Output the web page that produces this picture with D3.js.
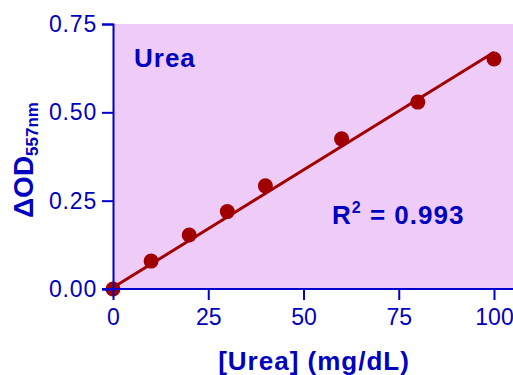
<!DOCTYPE html>
<html>
<head>
<meta charset="utf-8">
<script src="https://cdn.jsdelivr.net/npm/d3@7"></script>
<style>
  body { margin: 0; background: #fff; }
  text { font-family: "Liberation Sans", Arial, sans-serif; fill: #0000c0; }
</style>
</head>
<body>
<div id="chart"></div>
<script>
// urea standard curve
var ureaConc = [0, 10, 20, 30, 40, 60, 80, 100];
var deltaOD = [0, 0.079, 0.153, 0.219, 0.292, 0.425, 0.529, 0.651];
var fitX = [0, 100];
var fitY = [0.004, 0.670];
var xTicks = [0, 25, 50, 75, 100];
var yTicks = [0, 0.25, 0.5, 0.75];

var w = 513, h = 375;
var m = { left: 113, top: 24, bottom: 86 };
var blue = "#0000cc";

var svg = d3.select("#chart").append("svg")
    .attr("width", w).attr("height", h);

var x = d3.scaleLinear().domain([0, 100]).range([m.left, 494]);
var y = d3.scaleLinear().domain([0, 0.75]).range([h - m.bottom, m.top]);

svg.append("rect")
    .attr("x", m.left).attr("y", m.top)
    .attr("width", w - m.left).attr("height", y(0) - m.top)
    .attr("fill", "#eeccf7");

// fit line + points
svg.append("path")
    .datum(fitX.map(function (d, i) { return [d, fitY[i]]; }))
    .attr("fill", "none").attr("stroke", "#a00000").attr("stroke-width", 3)
    .attr("d", d3.line().x(function (d) { return x(d[0]); }).y(function (d) { return y(d[1]); }));

svg.selectAll("circle.pt")
    .data(ureaConc)
    .enter().append("circle")
    .attr("class", "pt")
    .attr("cx", function (d) { return x(d); })
    .attr("cy", function (d, i) { return y(deltaOD[i]); })
    .attr("r", 7.5)
    .attr("fill", "#a00000");

var xAxis = svg.append("g")
    .attr("transform", "translate(0," + y(0) + ")")
    .call(d3.axisBottom(x).tickValues(xTicks).tickSize(11).tickPadding(9).tickFormat(d3.format("d")));

var yAxis = svg.append("g")
    .attr("transform", "translate(" + m.left + ",0)")
    .call(d3.axisLeft(y).tickValues(yTicks).tickSize(11).tickPadding(5).tickFormat(d3.format(".2f")));

[xAxis, yAxis].forEach(function (g) {
    g.select(".domain").attr("stroke", blue).attr("stroke-width", 2);
    g.selectAll(".tick line").attr("stroke", blue).attr("stroke-width", 2);
    g.selectAll(".tick text").style("font-size", "23px").attr("fill", "#0000c0");
});
yAxis.selectAll(".tick text").style("letter-spacing", "0.8px");
xAxis.select(".domain").attr("d", "M" + (m.left - 11) + ",0H" + w);

// labels
svg.append("text")
    .attr("x", 314).attr("y", 370)
    .attr("text-anchor", "middle")
    .style("font-size", "26px").style("font-weight", "bold").style("letter-spacing", "1px")
    .text("[Urea] (mg/dL)");

svg.append("text")
    .attr("x", 134).attr("y", 67)
    .style("font-size", "26px").style("font-weight", "bold").style("letter-spacing", "1px")
    .text("Urea");

var r2 = svg.append("text")
    .attr("x", 332).attr("y", 224)
    .style("font-size", "26px").style("font-weight", "bold").style("letter-spacing", "1px");
r2.append("tspan").text("R");
r2.append("tspan").attr("dy", -11).style("font-size", "16px").text("2");
r2.append("tspan").attr("dy", 11).text(" = 0.993");

var yl = svg.append("text")
    .attr("transform", "translate(33,218) rotate(-90)")
    .style("font-size", "28px").style("font-weight", "bold");
yl.append("tspan").text("\u0394OD");
yl.append("tspan").attr("dy", 5).style("font-size", "17px").text("557nm");
</script>
</body>
</html>
